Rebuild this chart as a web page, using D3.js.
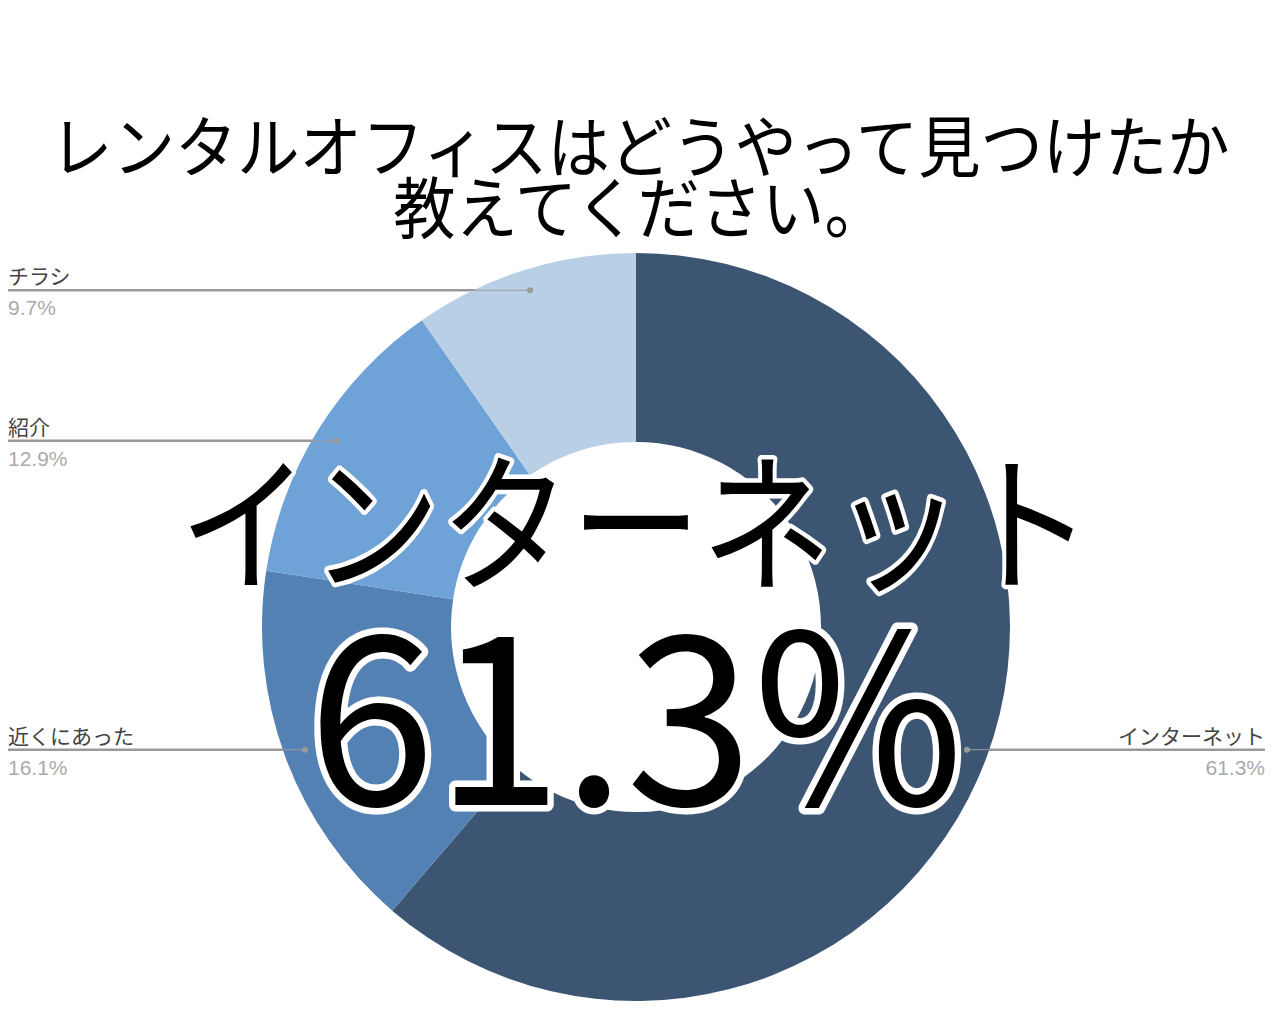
<!DOCTYPE html>
<html><head><meta charset="utf-8">
<script src="https://cdn.jsdelivr.net/npm/d3@7"></script>
<style>html,body{margin:0;padding:0;background:#fff;}svg{display:block;}</style>
</head><body>
<svg id="chart" width="1280" height="1010"></svg>
<script>
const categories = ["インターネット", "近くにあった", "紹介", "チラシ"];
const values = [61.3, 16.1, 12.9, 9.7];
const colors = ["#3c5573", "#5481b3", "#6fa2d6", "#b8cfe5"];
const titleLines = ["レンタルオフィスはどうやって見つけたか", "教えてください。"];
const bigLabel = "インターネット";
const bigValue = "61.3%";

const svg = d3.select("#chart");
const cx = 636, cy = 627, rOuter = 374, rInner = 185, rDot = 353;
const jp = "'Noto Sans CJK JP', 'Noto Sans', sans-serif";

// title
svg.append("g").selectAll("text").data(titleLines).join("text")
  .attr("transform", (d, i) => `translate(640,${172 + i * 61}) scale(0.93,1)`)
  .attr("text-anchor", "middle")
  .attr("font-family", jp).attr("font-size", 67).attr("fill", "#000")
  .text(d => d);

const pie = d3.pie().sort(null).value(d => d)(values);
const arc = d3.arc().innerRadius(rInner).outerRadius(rOuter);
const dotArc = d3.arc().innerRadius(rDot).outerRadius(rDot);

const labelInfo = pie.map((p, i) => {
  const c = dotArc.centroid(p);
  const x = cx + c[0], y = cy + c[1];
  const left = x < cx;
  return { i, x, y, left, name: categories[i], val: values[i].toFixed(1) + "%" };
});

// thick leader lines (under pie)
const gl = svg.append("g");
gl.selectAll("line").data(labelInfo).join("line")
  .attr("x1", d => d.left ? 8 : 1265).attr("x2", d => d.x)
  .attr("y1", d => d.y).attr("y2", d => d.y)
  .attr("stroke", "#999").attr("stroke-width", 2.5);

// pie
svg.append("g").attr("transform", `translate(${cx},${cy})`)
  .selectAll("path").data(pie).join("path")
  .attr("d", arc).attr("fill", (d, i) => colors[i]);

// thin part + dot over pie
const gd = svg.append("g");
gd.selectAll("line").data(labelInfo).join("line")
  .attr("x1", d => d.left ? 8 : 1265).attr("x2", d => d.x)
  .attr("y1", d => d.y).attr("y2", d => d.y)
  .attr("stroke", "#9a9a9a").attr("stroke-width", 1);
gd.selectAll("circle").data(labelInfo).join("circle")
  .attr("cx", d => d.x).attr("cy", d => d.y).attr("r", 3).attr("fill", "#9a9a9a");

// label texts
const gt = svg.append("g");
gt.selectAll("text.name").data(labelInfo).join("text").attr("class", "name")
  .attr("x", d => d.left ? 8 : 1265).attr("y", d => d.y - 6)
  .attr("text-anchor", d => d.left ? "start" : "end")
  .attr("font-family", jp).attr("font-size", 21).attr("fill", "#444")
  .text(d => d.name);
gt.selectAll("text.val").data(labelInfo).join("text").attr("class", "val")
  .attr("x", d => d.left ? 8 : 1265).attr("y", d => d.y + 25)
  .attr("text-anchor", d => d.left ? "start" : "end")
  .attr("font-family", "'Liberation Sans', Arial, sans-serif").attr("font-size", 21).attr("fill", "#aaa")
  .text(d => d.val);

// big overlay text
const big = svg.append("g");
big.append("text").attr("transform", "translate(636,580) scale(0.87,1)")
  .attr("text-anchor", "middle").attr("font-family", jp).attr("font-size", 150)
  .attr("fill", "#000").attr("stroke", "#fff").attr("stroke-width", 9)
  .attr("stroke-linejoin", "round").attr("paint-order", "stroke")
  .text(bigLabel);
big.append("text").attr("transform", "translate(636,805) scale(0.97,1)")
  .attr("text-anchor", "middle").attr("font-family", jp).attr("font-size", 236)
  .attr("fill", "#000").attr("stroke", "#fff").attr("stroke-width", 13)
  .attr("stroke-linejoin", "round").attr("paint-order", "stroke")
  .text(bigValue);
</script>
</body></html>
